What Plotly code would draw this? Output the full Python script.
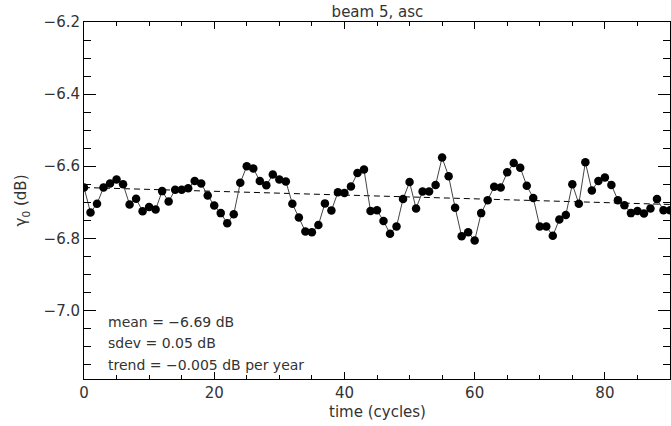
import plotly.graph_objects as go

# gamma0 per cycle, beam 5 ascending
cycles = list(range(91))
gamma0 = [
    -6.659, -6.728, -6.704, -6.659, -6.648, -6.637, -6.650, -6.706, -6.690, -6.725,
    -6.713, -6.720, -6.669, -6.698, -6.665, -6.665, -6.661, -6.641, -6.648, -6.681,
    -6.709, -6.730, -6.758, -6.733, -6.646, -6.600, -6.606, -6.641, -6.653, -6.623,
    -6.637, -6.642, -6.704, -6.742, -6.781, -6.783, -6.763, -6.703, -6.723, -6.672,
    -6.674, -6.656, -6.619, -6.609, -6.724, -6.722, -6.752, -6.787, -6.767, -6.691,
    -6.644, -6.717, -6.670, -6.670, -6.652, -6.576, -6.628, -6.715, -6.794, -6.783,
    -6.806, -6.730, -6.694, -6.657, -6.659, -6.617, -6.591, -6.604, -6.654, -6.688,
    -6.767, -6.767, -6.793, -6.748, -6.735, -6.650, -6.704, -6.589, -6.667, -6.641,
    -6.631, -6.652, -6.694, -6.708, -6.730, -6.724, -6.731, -6.717, -6.691, -6.722,
    -6.722,
]

# linear trend end points
trend_x = [0, 90]
trend_y = [-6.659, -6.706]

stats_lines = [
    "mean = \u22126.69 dB",
    "sdev = 0.05 dB",
    "trend = \u22120.005 dB per year",
]

font = "DejaVu Sans"
txt = "#333333"

fig = go.Figure()
fig.add_trace(go.Scatter(
    x=trend_x, y=trend_y, mode="lines",
    line=dict(color="black", width=1, dash="6px,4px"),
    showlegend=False, hoverinfo="skip",
))
fig.add_trace(go.Scatter(
    x=cycles, y=gamma0, mode="lines+markers",
    line=dict(color="#444444", width=1),
    marker=dict(color="black", size=8.5),
    showlegend=False, cliponaxis=True,
))

for k, s in enumerate(stats_lines):
    fig.add_annotation(
        x=0.038, y=0.16 - k * 0.06, xref="paper", yref="paper",
        text=s, showarrow=False, xanchor="left", yanchor="middle",
        font=dict(family=font, size=14, color=txt),
    )

# axis titles placed as annotations so they sit where the original has them
fig.add_annotation(
    x=0.5, y=-0.092, xref="paper", yref="paper", text="time (cycles)",
    showarrow=False, xanchor="center", yanchor="middle",
    font=dict(family=font, size=15, color=txt),
)
fig.add_annotation(
    x=-0.106, y=0.5, xref="paper", yref="paper", text="\u03b3<sub>0</sub> (dB)",
    showarrow=False, xanchor="center", yanchor="middle", textangle=-90,
    font=dict(family=font, size=15, color=txt),
)

axis_common = dict(
    showline=True, linecolor="black", linewidth=1, mirror="allticks",
    ticks="inside", tickcolor="black", showgrid=False, zeroline=False,
    automargin=False,
    tickfont=dict(family=font, size=15, color=txt),
)

fig.update_xaxes(
    range=[0, 90], tick0=0, dtick=20, ticklen=7,
    minor=dict(ticks="inside", dtick=5, ticklen=4, tickcolor="black", showgrid=False),
    **axis_common,
)
fig.update_yaxes(
    range=[-7.19, -6.2], tick0=-7.0, dtick=0.2, tickformat=".1f", ticklen=12,
    minor=dict(ticks="inside", dtick=0.05, ticklen=7, tickcolor="black", showgrid=False),
    **axis_common,
)

fig.update_layout(
    width=671, height=426,
    margin=dict(l=84, r=1, t=22, b=47, autoexpand=False),
    paper_bgcolor="white", plot_bgcolor="white",
    title=dict(text="beam 5, asc", x=0.5625, xanchor="center", y=0.985, yanchor="top",
               font=dict(family=font, size=15, color=txt)),
)

# drop the browser's default body margin so the figure fills the window
fig.write_html("out.html", config={"displayModeBar": False},
               post_script="document.body.style.margin='0';")
